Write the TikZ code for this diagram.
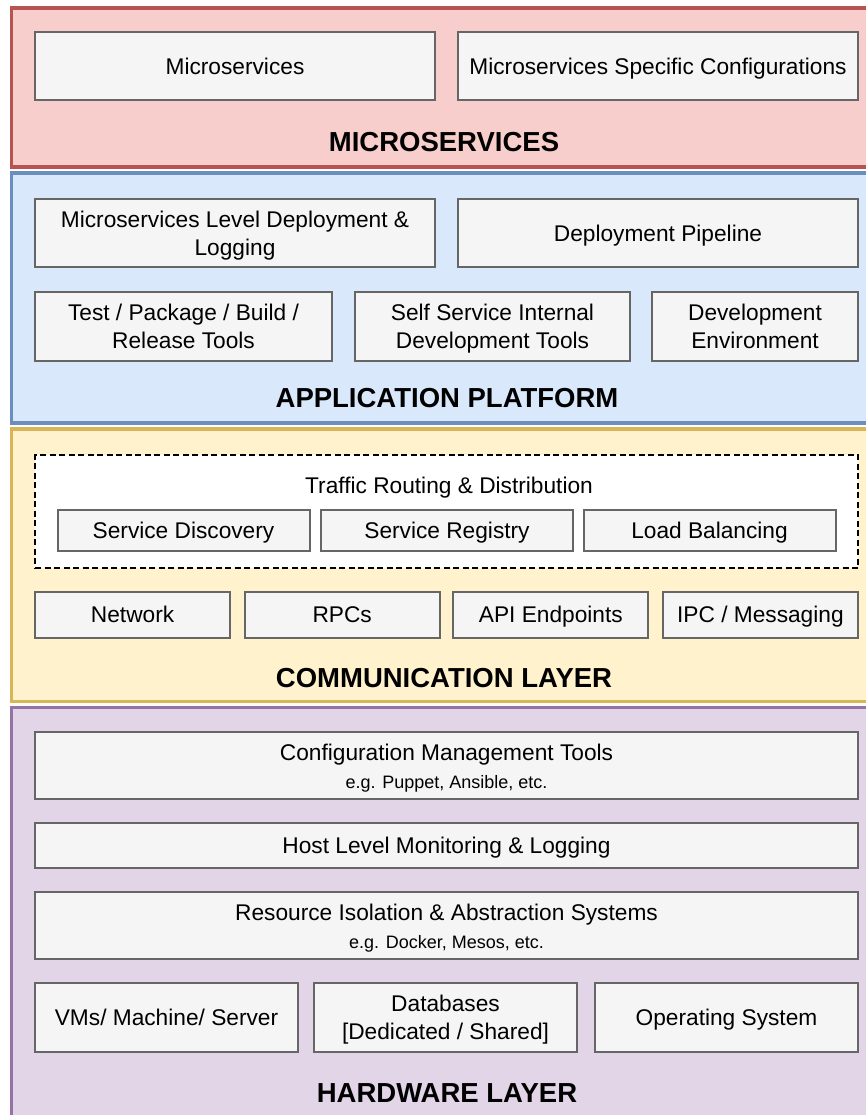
\documentclass[tikz,border=0pt]{standalone}
\usepackage{fontspec}
\setmainfont{Liberation Sans}
\definecolor{msfill}{HTML}{F8CECC}\definecolor{msline}{HTML}{B85450}
\definecolor{apfill}{HTML}{DAE8FC}\definecolor{apline}{HTML}{6C8EBF}
\definecolor{clfill}{HTML}{FFF2CC}\definecolor{clline}{HTML}{D6B656}
\definecolor{hwfill}{HTML}{E1D5E7}\definecolor{hwline}{HTML}{9673A6}
\definecolor{boxfill}{HTML}{F5F5F5}\definecolor{boxline}{HTML}{666666}
% invisible strut that centres the capitals of a line on the node centre
\newcommand\capstrut{\rule[-0.22em]{0pt}{1.16em}}
\begin{document}
\begin{tikzpicture}[x=1pt,y=-1pt,
  layer/.style={line width=3.5pt},
  boxbase/.style={draw=boxline, fill=boxfill, line width=2pt, inner sep=0pt,
    align=center, font=\fontsize{22.7}{27}\selectfont},
  box/.style={boxbase,
    execute at begin node=\capstrut, execute at end node=\capstrut},
  twoline/.style={boxbase, font=\fontsize{22.7}{28}\selectfont,
    text height=44.2pt, text depth=0pt},
  withnote/.style={boxbase, text height=45pt, text depth=0pt},
  title/.style={font=\fontsize{27.5}{30}\selectfont\bfseries, inner sep=0pt},
  plain/.style={font=\fontsize{22.7}{27}\selectfont, inner sep=0pt,
    execute at begin node=\capstrut, execute at end node=\capstrut}]
\useasboundingbox (0,0) rectangle (866,1115);
\clip (0,0) rectangle (866,1115);

% layer bands
\draw[layer, draw=msline, fill=msfill] (11.7,8) rectangle (890,167);
\draw[layer, draw=apline, fill=apfill] (11.7,173) rectangle (890,423);
\draw[layer, draw=clline, fill=clfill] (11.7,429) rectangle (890,701.5);
\draw[layer, draw=hwline, fill=hwfill] (11.7,707.5) rectangle (890,1140);

% microservices
\node[box, minimum width=400, minimum height=68] (ms) at (235,66) {Microservices};
\node[box, minimum width=400, minimum height=68] (msc) at (658,66) {Microservices Specific Configurations};
\node[title] (tms) at (444,142) {MICROSERVICES};

% application platform
\node[twoline, minimum width=400, minimum height=68] (mld) at (235,233)
  {Microservices Level Deployment \&\\Logging};
\node[box, minimum width=400, minimum height=68] (dp) at (658,233) {Deployment Pipeline};
\node[twoline, minimum width=297, minimum height=69] (tpb) at (183.5,326.5)
  {Test / Package / Build /\\Release Tools};
\node[twoline, minimum width=275, minimum height=69] (ssi) at (492.5,326.5)
  {Self Service Internal\\Development Tools};
\node[twoline, minimum width=206, minimum height=69] (dev) at (755,326.5)
  {Development\\Environment};
\node[title] (tap) at (447,398) {APPLICATION PLATFORM};

% communication layer
\node[draw=black, fill=white, line width=2pt, dash pattern=on 6pt off 3.5pt,
  minimum width=823, minimum height=113, inner sep=0pt] (trd) at (446.5,511.5) {};
\node[plain] (trdt) at (449,485) {Traffic Routing \& Distribution};
\node[box, minimum width=252, minimum height=41] (sd) at (183.5,530.3) {Service Discovery};
\node[box, minimum width=252, minimum height=41] (sr) at (447,530.3) {Service Registry};
\node[box, minimum width=252, minimum height=41] (lb) at (709.5,530.3) {Load Balancing};
\node[box, minimum width=195, minimum height=46] (net) at (132.6,614.8) {Network};
\node[box, minimum width=195, minimum height=46] (rpc) at (342.2,614.8) {RPCs};
\node[box, minimum width=195, minimum height=46] (api) at (550.8,614.8) {API Endpoints};
\node[box, minimum width=195, minimum height=46] (ipc) at (760.4,614.8) {IPC / Messaging};
\node[title] (tcl) at (444,678) {COMMUNICATION LAYER};

% hardware layer
\node[withnote, minimum width=823, minimum height=67] (cmt) at (446.5,765.5)
  {Configuration Management Tools\\[1pt]{\fontsize{18}{22}\selectfont e.g. Puppet, Ansible, etc.}};
\node[box, minimum width=823, minimum height=45] (hlm) at (446.5,845.5)
  {Host Level Monitoring \& Logging};
\node[withnote, minimum width=823, minimum height=67] (ria) at (446.5,925.5)
  {Resource Isolation \& Abstraction Systems\\[1pt]{\fontsize{18}{22}\selectfont e.g. Docker, Mesos, etc.}};
\node[box, minimum width=263, minimum height=69] (vms) at (166.5,1017) {VMs/ Machine/ Server};
\node[twoline, minimum width=263, minimum height=69] (db) at (445.5,1017)
  {Databases\\{}[Dedicated / Shared]};
\node[box, minimum width=263, minimum height=69] (os) at (726.5,1017) {Operating System};
\node[title] (thw) at (447,1093) {HARDWARE LAYER};
\end{tikzpicture}
\end{document}
